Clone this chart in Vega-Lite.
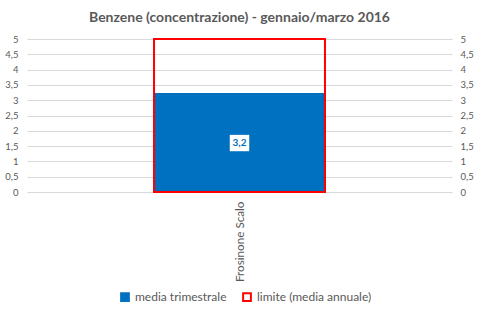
{
  "$schema": "https://vega.github.io/schema/vega-lite/v6.json",
  "width": 425,
  "height": 153,
  "autosize": {"type": "none"},
  "padding": {"left": 27, "top": 39, "right": 28, "bottom": 124},
  "background": "white",
  "config": {
    "font": "Lato",
    "view": {"stroke": null},
    "locale": {"number": {"decimal": ",", "thousands": ".", "grouping": [3], "currency": ["€", ""]}}
  },
  "title": {
    "text": "Benzene (concentrazione) - gennaio/marzo 2016",
    "font": "Lato",
    "fontSize": 14,
    "fontWeight": "bold",
    "color": "#595959",
    "offset": 9
  },
  "data": {
    "values": [
      {"stazione": "Frosinone Scalo", "serie": "media trimestrale", "valore": 3.2},
      {"stazione": "Frosinone Scalo", "serie": "limite (media annuale)", "valore": 5}
    ]
  },
  "layer": [
    {
      "mark": {"type": "bar", "strokeWidth": 2},
      "encoding": {
        "x": {
          "field": "stazione", "type": "nominal",
          "scale": {"paddingInner": 0, "paddingOuter": 0.743},
          "axis": {"title": null, "domain": false, "ticks": false, "grid": false, "labelAngle": -90, "labelFontSize": 11.7, "labelColor": "#595959", "labelPadding": 9}
        },
        "y": {
          "field": "valore", "type": "quantitative", "stack": null,
          "scale": {"domain": [0, 5], "nice": false},
          "axis": {"title": null, "values": [0, 0.5, 1, 1.5, 2, 2.5, 3, 3.5, 4, 4.5, 5], "format": ".1~f", "domain": false, "ticks": false, "gridColor": "#D9D9D9", "labelFontSize": 9.5, "labelColor": "#595959", "labelPadding": 9}
        },
        "fill": {
          "field": "serie", "type": "nominal",
          "scale": {"domain": ["media trimestrale", "limite (media annuale)"], "range": ["#0070C0", "transparent"]},
          "legend": {"title": null, "orient": "none", "legendX": 92, "legendY": 252, "direction": "horizontal", "symbolType": "square", "symbolSize": 60, "symbolStrokeWidth": 2, "labelFontSize": 12, "labelColor": "#595959", "columnPadding": 12, "labelOffset": 4}
        },
        "stroke": {
          "field": "serie", "type": "nominal",
          "scale": {"domain": ["media trimestrale", "limite (media annuale)"], "range": ["#0070C0", "#FF0000"]}
        }
      }
    },
    {
      "transform": [
        {"filter": "datum.serie == 'media trimestrale'"},
        {"calculate": "datum.valore / 2", "as": "centro"}
      ],
      "mark": {"type": "point", "shape": "M-1,-0.84L1,-0.84L1,0.84L-1,0.84Z", "filled": true, "fill": "white", "opacity": 1, "size": 380},
      "encoding": {
        "x": {"field": "stazione", "type": "nominal"},
        "y": {
          "field": "centro", "type": "quantitative",
          "axis": {"title": null, "orient": "right", "values": [0, 0.5, 1, 1.5, 2, 2.5, 3, 3.5, 4, 4.5, 5], "format": ".1~f", "domain": false, "ticks": false, "grid": false, "labelFontSize": 9.5, "labelColor": "#595959", "labelPadding": 8}
        }
      }
    },
    {
      "transform": [
        {"filter": "datum.serie == 'media trimestrale'"},
        {"calculate": "datum.valore / 2", "as": "centro"}
      ],
      "mark": {"type": "text", "fontWeight": "bold", "fontSize": 10, "color": "#0070C0"},
      "encoding": {
        "x": {"field": "stazione", "type": "nominal"},
        "y": {"field": "centro", "type": "quantitative", "axis": null},
        "text": {"field": "valore", "type": "quantitative", "format": ".1f"}
      }
    }
  ],
  "resolve": {"axis": {"y": "independent"}}
}
